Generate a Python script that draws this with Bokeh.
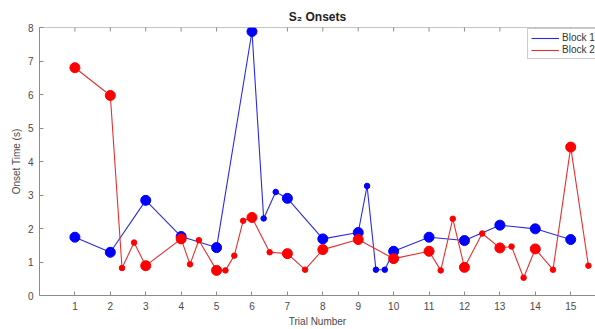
import math
from bokeh.plotting import figure
from bokeh.models import Range1d, FixedTicker, Legend, LegendItem, Span
from bokeh.embed import file_html
from bokeh.resources import INLINE

# Trial-level onsets (large markers)
trials = list(range(1, 16))
block1_trial = [1.74, 1.29, 2.84, 1.76, 1.43, 7.88, 2.90, 1.69, 1.88, 1.32, 1.74, 1.64, 2.10, 1.99, 1.67]
block2_trial = [6.80, 5.97, 0.89, 1.69, 0.75, 2.33, 1.25, 1.37, 1.67, 1.10, 1.32, 0.84, 1.42, 1.39, 4.43]

# Intermediate onsets (small markers)
block1_extra_x = [6.33, 6.67, 9.25, 9.5, 9.75]
block1_extra_y = [2.30, 3.09, 3.27, 0.77, 0.77]
block2_extra_x = [2.33, 2.67, 4.25, 4.5, 5.25, 5.5, 5.75, 6.5, 7.5, 11.33, 11.67, 12.5, 13.33, 13.67, 14.5, 15.5]
block2_extra_y = [0.82, 1.58, 0.93, 1.65, 0.75, 1.19, 2.23, 1.29, 0.77, 0.75, 2.29, 1.85, 1.46, 0.53, 0.77, 0.89]

x_ticks = list(range(1, 16))
y_ticks = list(range(0, 9))
y_top = 8

FONT = "Liberation Sans"
AX = "#8c8c8c"
TXT = "#4a4a4a"

p = figure(width=595, height=329, output_backend="svg", toolbar_location=None,
           x_range=Range1d(0, 15.7), y_range=Range1d(0, y_top),
           min_border_left=39, min_border_right=0, min_border_top=27, min_border_bottom=0,
           title="S\u2082 Onsets")
p.title.text_font = FONT
p.title.text_font_size = "12px"
p.title.text_font_style = "bold"
p.title.align = "center"
p.title.text_color = "#222222"
p.title.standoff = 7
p.title.offset = 0

p.grid.visible = False
p.outline_line_color = None
p.background_fill_color = "white"
p.border_fill_color = "white"

def style_axis(ax):
    ax.axis_line_color = AX
    ax.major_tick_line_color = AX
    ax.major_tick_in = 4
    ax.major_tick_out = 0
    ax.minor_tick_line_color = None
    ax.major_label_text_font = FONT
    ax.major_label_text_font_size = "10px"
    ax.major_label_text_color = TXT
    ax.axis_label_text_font = FONT
    ax.axis_label_text_font_size = "10px"
    ax.axis_label_text_font_style = "normal"
    ax.axis_label_text_color = TXT

p.xaxis.ticker = FixedTicker(ticks=x_ticks)
p.yaxis.ticker = FixedTicker(ticks=y_ticks)
p.xaxis.axis_label = "Trial Number"
p.yaxis.axis_label = "Onset Time (s)"
style_axis(p.xaxis[0])
style_axis(p.yaxis[0])
p.xaxis.major_label_standoff = 6
p.xaxis.axis_label_standoff = 3
p.yaxis.major_label_standoff = 6
p.yaxis.axis_label_standoff = 3

# top edge of the box with inward tick marks
p.add_layout(Span(location=y_top, dimension="width", line_color=AX, line_width=1))
p.scatter(x_ticks, [y_top] * len(x_ticks), marker="dash", angle=math.pi / 2,
          size=8, line_color=AX, line_width=1)

def merged(tx, ty, ex, ey):
    pts = sorted(list(zip(tx, ty)) + list(zip(ex, ey)))
    return [a for a, _ in pts], [b for _, b in pts]

b1x, b1y = merged(trials, block1_trial, block1_extra_x, block1_extra_y)
b2x, b2y = merged(trials, block2_trial, block2_extra_x, block2_extra_y)

l1 = p.line(b1x, b1y, line_color="#2a2ae6", line_width=1.1)
l2 = p.line(b2x, b2y, line_color="#e63030", line_width=1.1)

p.scatter(block1_extra_x, block1_extra_y, size=5.5, color="#0000ff")
p.scatter(trials, block1_trial, size=10, color="#0000ff")
p.scatter(block2_extra_x, block2_extra_y, size=5.5, color="#ff0000")
p.scatter(trials, block2_trial, size=10, color="#ff0000")

legend = Legend(items=[LegendItem(label="Block 1", renderers=[l1]),
                       LegendItem(label="Block 2", renderers=[l2])],
                location=(488, 236))
legend.label_text_font = FONT
legend.label_text_font_size = "10px"
legend.label_text_color = "#333333"
legend.label_height = 10
legend.label_standoff = 3
legend.glyph_width = 28
legend.glyph_height = 10
legend.spacing = 1
legend.padding = 3
legend.margin = 0
legend.border_line_color = "#999999"
p.add_layout(legend, "center")

open("out.html", "w").write(file_html(p, INLINE))
